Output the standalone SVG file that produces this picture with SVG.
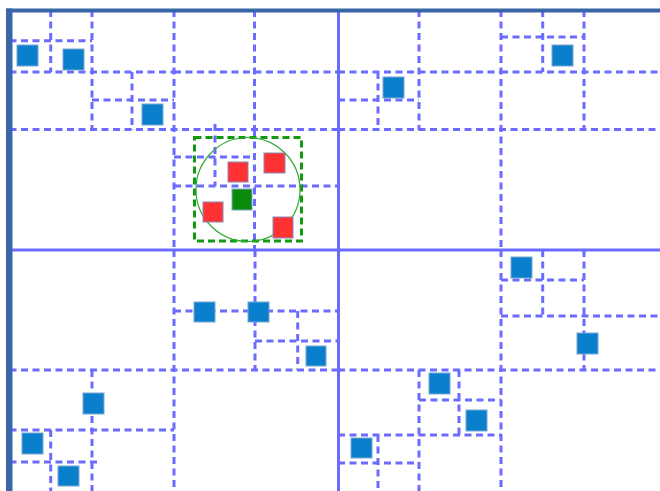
<svg xmlns="http://www.w3.org/2000/svg" width="660" height="491" viewBox="0 0 660 491">
<style>
.d{stroke:#6b6bff;stroke-width:3;stroke-dasharray:7 4.5;fill:none}
.s{stroke:#6b6bff;stroke-width:3;fill:none}
.fr{fill:#3a66a8}
.b{fill:#0a80cc;stroke:#7aa6d2;stroke-width:1}
.r{fill:#ff3333;stroke:#8a8ab8;stroke-width:1}
.g{fill:#0a8a0a;stroke:#7aa6d2;stroke-width:1}
</style>
<rect width="660" height="491" fill="#ffffff"/>
<g id="grid">
<path class="s" d="M338.5 10V491M9 250H660"/>
<path class="d" d="
M174 10V250M9.5 129.5H338
M92 10V130M9.5 72H174
M50.7 10V72M9.5 40.7H92
M132 72V130M92 100H174
M254.5 10V130M174 72H338
M254.5 130V250M174 186H338
M215 124V186M174 157H254.5
M501 10V250M338 129.5H660
M419 10V130M338 72H501
M378 72V130M338 100H419
M584 10V130M501 72H660
M542.7 10V72M501 37H584
M174 250V491M9.5 370H338
M255 250V370M174 311H338
M297.7 311V370M255 341H338
M92 370V491M9.5 430H174
M50.7 430V491M9.5 462H100
M501 250V491M338 370H660
M584 250V370M501 316H660
M542.7 250V316M501 280H584
M419 370V491M338 435H501
M459 370V435M419 400H501
M378 435V491M338 463H419"/>
</g>
<g id="frame">
<rect class="fr" x="6" y="8.5" width="654" height="4"/>
<rect class="fr" x="6" y="8.5" width="6.5" height="483"/>
</g>
<g id="points">
<rect class="b" x="17" y="45" width="21" height="21"/>
<rect class="b" x="63" y="49" width="21" height="21"/>
<rect class="b" x="142" y="104" width="21" height="21"/>
<rect class="b" x="383" y="77" width="21" height="21"/>
<rect class="b" x="552" y="45" width="21" height="21"/>
<rect class="b" x="194" y="302" width="21" height="20"/>
<rect class="b" x="248" y="302" width="21" height="20"/>
<rect class="b" x="306" y="346" width="20" height="20"/>
<rect class="b" x="511" y="257" width="21" height="21"/>
<rect class="b" x="577" y="333" width="21" height="21"/>
<rect class="b" x="429" y="373" width="21" height="21"/>
<rect class="b" x="466" y="410" width="21" height="21"/>
<rect class="b" x="351" y="438" width="21" height="20"/>
<rect class="b" x="83" y="393" width="21" height="21"/>
<rect class="b" x="22" y="433" width="21" height="21"/>
<rect class="b" x="58" y="466" width="21" height="20"/>
</g>
<g id="query">
<rect x="194.5" y="137.5" width="107" height="103.5" fill="none" stroke="#119911" stroke-width="3" stroke-dasharray="7 4"/>
<circle cx="248" cy="189.5" r="52" fill="none" stroke="#33aa33" stroke-width="1.2"/>
<rect class="r" x="228" y="162" width="20" height="20"/>
<rect class="r" x="264" y="153" width="21" height="20"/>
<rect class="r" x="203" y="202" width="20" height="20"/>
<rect class="r" x="273" y="217" width="20" height="21"/>
<rect class="g" x="232" y="189" width="20" height="21"/>
</g>
</svg>
